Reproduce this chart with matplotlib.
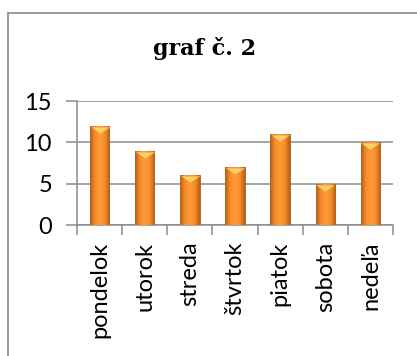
import numpy as np
import matplotlib
matplotlib.use("Agg")
import matplotlib.pyplot as plt
from matplotlib.patches import Rectangle
import matplotlib.transforms as mtransforms

# data
days = ["pondelok", "utorok", "streda", "štvrtok", "piatok", "sobota", "nedeľa"]
counts = [12, 9, 6, 7, 11, 5, 10]
y_ticks = [0, 5, 10, 15]

GRID = "#8c8c8c"

fig = plt.figure(figsize=(4.17, 3.56), dpi=100)
fig.patch.set_facecolor("white")

# chart border (runs off the right / bottom edge like the screenshot)
fig.patches.append(Rectangle((8 / 417, -0.1), 1.2, 1.1 - 13 / 356,
                             transform=fig.transFigure, fill=False,
                             edgecolor="#8a8a8a", linewidth=1.2))

ax = fig.add_axes([77 / 417, 131 / 356, 316 / 417, 124 / 356])
x = np.arange(len(days))
ax.set_xlim(-0.5, len(days) - 0.5)
ax.set_ylim(0, 15)

bars = ax.bar(x, counts, width=0.43, color="#f28a24", edgecolor="#a85a16",
              linewidth=0.6, zorder=3)

# horizontal gradient inside every bar
grad = np.linspace(0, 1, 64)
shade = np.clip(1 - np.abs(grad - 0.5) * 1.6, 0, 1)[None, :]
cmap = matplotlib.colors.LinearSegmentedColormap.from_list(
    "orng", ["#b4601c", "#f68c2a", "#ff9a38"])
for b in bars:
    im = ax.imshow(shade, cmap=cmap, aspect="auto", zorder=3.5,
                   extent=(b.get_x(), b.get_x() + b.get_width(), 0, b.get_height()))
    im.set_clip_path(b)

# light bevel triangle at the top of each bar
tri = [(-1, 0.35), (1, 0.35), (0, -0.35)]
tri_tr = mtransforms.offset_copy(ax.transData, fig=fig, y=-4, units="dots")
ax.plot(x, counts, linestyle="none", marker=tri, markersize=13,
        color="#ffcf6a", markeredgecolor="#f7b04a", markeredgewidth=0.4,
        transform=tri_tr, zorder=4)

ax.set_yticks(y_ticks)
ax.yaxis.grid(True, color=GRID, linewidth=1.1, zorder=0)
ax.set_axisbelow(True)
ax.set_xticks(x)
ax.set_xticklabels(days, rotation=90, fontsize=17, family="Lato")
ax.set_xticks(np.arange(-0.5, len(days)), minor=True)
ax.tick_params(axis="x", which="major", length=0, pad=12)
ax.tick_params(axis="x", which="minor", length=7, color=GRID, width=1.1)
ax.tick_params(axis="y", length=8, color=GRID, width=1.1, labelsize=17, pad=10)
for lbl in ax.get_yticklabels():
    lbl.set_family("Lato")

for s in ["top", "right"]:
    ax.spines[s].set_visible(False)
ax.spines["left"].set_color(GRID)
ax.spines["bottom"].set_color(GRID)
ax.spines["left"].set_linewidth(1.1)
ax.spines["bottom"].set_linewidth(1.1)

fig.text(205 / 417, 1 - 48 / 356, "graf č. 2", ha="center", va="center",
         fontsize=16, fontweight="bold", family="DejaVu Serif")

fig.savefig("out.png", dpi=100)
